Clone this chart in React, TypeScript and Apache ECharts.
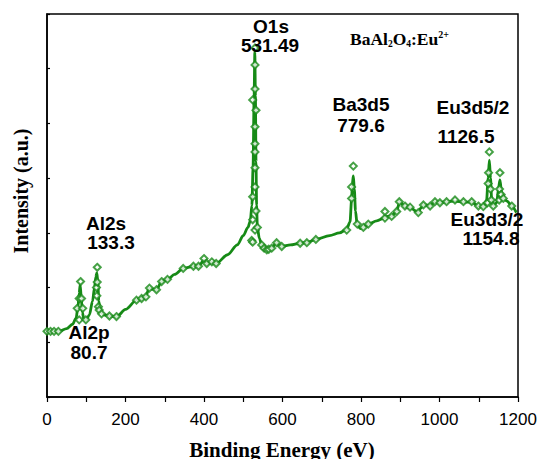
import React, { useEffect, useRef } from "react";
import * as echarts from "echarts";

// Smooth spectrum curve: [binding energy (eV), intensity (a.u.)]
const curveX = [0, 15, 30, 50, 65, 74, 79, 82, 84.5, 87, 90, 94, 99, 108, 116, 121, 124.5, 127, 129.5, 132, 136, 145, 160, 178, 200, 228, 241, 252, 260, 268, 279, 292, 307, 325, 347, 373, 386, 400, 407, 420, 431, 460, 485, 500, 512, 518, 522, 525, 527.5, 529.5, 531, 532.5, 534, 536, 541, 547, 555, 560, 566, 572, 585, 592, 598, 620, 645, 662, 685, 720, 745, 763, 772, 776, 778, 780.5, 783, 786, 790, 798, 806, 819, 840, 861, 868, 878, 891, 899, 906, 912, 925, 946, 952, 959, 976, 988, 1001, 1018, 1040, 1061, 1082, 1099, 1112, 1120, 1124, 1127, 1130, 1133, 1137, 1146, 1150, 1154, 1158, 1163, 1172, 1184, 1196];
const curveY = [1.2, 1.2, 1.2, 1.25, 1.33, 1.44, 1.65, 1.9, 2.05, 1.85, 1.55, 1.42, 1.4, 1.5, 1.75, 2.0, 2.2, 2.27, 2.1, 1.75, 1.57, 1.5, 1.48, 1.47, 1.6, 1.77, 1.8, 1.84, 1.99, 1.97, 1.96, 2.11, 2.15, 2.24, 2.35, 2.39, 2.39, 2.5, 2.44, 2.46, 2.44, 2.6, 2.78, 2.95, 3.1, 3.22, 3.5, 4.2, 5.4, 6.3, 5.5, 4.3, 3.5, 3.1, 2.9, 2.78, 2.7, 2.69, 2.7, 2.72, 2.82, 2.77, 2.75, 2.78, 2.81, 2.82, 2.88, 2.95, 3.0, 3.06, 3.2, 3.6, 3.9, 4.04, 3.8, 3.4, 3.16, 3.08, 3.1, 3.16, 3.22, 3.28, 3.3, 3.31, 3.4, 3.58, 3.52, 3.48, 3.46, 3.37, 3.45, 3.51, 3.5, 3.56, 3.55, 3.57, 3.58, 3.56, 3.56, 3.49, 3.48, 3.6, 4.0, 4.33, 4.0, 3.6, 3.5, 3.55, 3.8, 3.97, 3.75, 3.63, 3.58, 3.49, 3.37];

// Measured data points (diamond markers)
const markerX = [0, 9, 18, 29, 77, 82, 82, 85.5, 88, 91, 99, 126, 127, 128, 128, 131, 133, 139, 159, 177, 228, 241, 252, 261, 279, 292, 307, 347, 373, 386, 400, 407, 420, 431, 521.5, 524, 530, 524, 532.5, 524, 530, 530, 530, 530, 530, 532.5, 524, 530, 530, 530, 536, 547, 553, 560, 565, 572.5, 585, 598, 645, 662, 685, 763.6, 776, 776, 780.4, 790.6, 806, 818.6, 861, 861, 878, 891, 897.6, 912, 925, 946, 959, 976, 988.5, 1001, 1018, 1039.5, 1061, 1082, 1099, 1111.6, 1122, 1124, 1125, 1127, 1130, 1132, 1137, 1152, 1153, 1154, 1157, 1162.6, 1184];
const markerY = [1.2, 1.2, 1.2, 1.2, 1.62, 1.41, 1.8, 2.11, 1.8, 1.62, 1.41, 2.0, 1.85, 2.37, 2.1, 1.65, 1.59, 1.52, 1.48, 1.47, 1.77, 1.8, 1.83, 1.99, 1.96, 2.11, 2.15, 2.35, 2.39, 2.39, 2.53, 2.44, 2.47, 2.44, 2.86, 2.83, 3.05, 3.24, 3.4, 3.66, 3.84, 4.19, 4.48, 4.63, 4.94, 5.24, 5.43, 5.63, 6.07, 6.38, 3.1, 2.78, 2.72, 2.69, 2.7, 2.72, 2.82, 2.75, 2.81, 2.82, 2.88, 3.05, 3.63, 3.84, 4.22, 3.16, 3.1, 3.16, 3.27, 3.39, 3.3, 3.39, 3.57, 3.49, 3.47, 3.37, 3.51, 3.49, 3.57, 3.55, 3.57, 3.6, 3.57, 3.57, 3.49, 3.48, 3.55, 3.9, 4.1, 4.48, 3.8, 3.6, 3.49, 3.6, 3.8, 4.1, 3.7, 3.63, 3.49];

const xTicks = [0, 200, 400, 600, 800, 1000, 1200];

// Peak annotations: [name, energy]
const peakNames = ["O1s", "Ba3d5", "Eu3d5/2", "Al2s", "Al2p", "Eu3d3/2"];
const peakValues = ["531.49", "779.6", "1126.5", "133.3", "80.7", "1154.8"];

const GREEN = "#168a16";
const SANS = "Arial, 'Liberation Sans', sans-serif";
const SERIF = "'Times New Roman', 'Liberation Serif', serif";

export default function App() {
  const ref = useRef<HTMLDivElement>(null);
  useEffect(() => {
    if (!ref.current) return;
    const chart = echarts.init(ref.current, undefined, { renderer: "svg" });
    const curve = curveX.map((x, i) => [x, curveY[i]]);
    const markers = markerX.map((x, i) => [x, markerY[i]]);

    const labelStyle = { fill: "#000", font: `bold 19px ${SANS}` };
    // [name x, name y, value y, value x]
    const pos: [number, number, number, number][] = [
      [271, 26, 45, 270],
      [361, 104, 125, 361],
      [473, 107, 136, 466],
      [106, 223, 242, 111],
      [89, 332, 352, 89],
      [487, 219, 238, 491],
    ];
    const annotations: any[] = [];
    peakNames.forEach((n, i) => {
      const p = pos[i];
      annotations.push({
        type: "text",
        style: { ...labelStyle, text: n, x: p[0], y: p[1], textAlign: "center", textVerticalAlign: "middle" },
        z: 100,
      });
      annotations.push({
        type: "text",
        style: { ...labelStyle, text: peakValues[i], x: p[3], y: p[2], textAlign: "center", textVerticalAlign: "middle" },
        z: 100,
      });
    });

    chart.setOption({
      animation: false,
      backgroundColor: "#fff",
      grid: {
        left: 47,
        right: 24,
        top: 14,
        bottom: 62,
        show: true,
        borderColor: "#000",
        borderWidth: 1.5,
      },
      xAxis: {
        type: "value",
        min: 0,
        max: 1200,
        interval: 200,
        axisLine: { show: true, lineStyle: { color: "#000", width: 1.5 } },
        axisTick: { show: true, inside: false, length: 5, lineStyle: { color: "#000", width: 1.2 } },
        minorTick: { show: true, splitNumber: 2, length: 5, lineStyle: { color: "#000", width: 1.2 } },
        splitLine: { show: false },
        axisLabel: {
          color: "#000",
          fontSize: 17,
          fontFamily: SANS,
          margin: 14,
          formatter: (v: number) => (xTicks.includes(v) ? String(v) : ""),
        },
      },
      yAxis: {
        type: "value",
        min: 0,
        max: 7,
        interval: 1,
        axisLine: { show: true, lineStyle: { color: "#000", width: 1.5 } },
        axisTick: { show: true, inside: true, length: 3, lineStyle: { color: "#000", width: 1.2 } },
        splitLine: { show: false },
        axisLabel: { show: false },
      },
      series: [
        {
          type: "line",
          data: curve,
          smooth: 0.3,
          smoothMonotone: "x",
          showSymbol: false,
          lineStyle: { color: GREEN, width: 2.8 },
          z: 2,
        },
        {
          type: "scatter",
          data: markers,
          symbol: "emptyDiamond",
          symbolSize: 7,
          itemStyle: { color: GREEN, borderWidth: 2 },
          z: 3,
        },
      ],
      graphic: [
        ...annotations,
        {
          type: "text",
          z: 100,
          style: {
            x: 350,
            y: 29,
            textVerticalAlign: "top",
            text: "{a|BaAl}{sub|2}{a|O}{sub|4}{a|:Eu}{sup|2+}",
            rich: {
              a: { fontFamily: SERIF, fontWeight: "bold", fontSize: 17.5, lineHeight: 20, fill: "#000" },
              sub: { fontFamily: SERIF, fontWeight: "bold", fontSize: 9.5, lineHeight: 9, verticalAlign: "bottom", fill: "#000" },
              sup: { fontFamily: SERIF, fontWeight: "bold", fontSize: 10, lineHeight: 10, verticalAlign: "top", fill: "#000" },
            },
          },
        },
        {
          type: "text",
          z: 100,
          x: 21,
          y: 191,
          rotation: Math.PI / 2,
          style: {
            text: "Intensity (a.u.)",
            font: `bold 20px ${SERIF}`,
            fill: "#000",
            textAlign: "center",
            textVerticalAlign: "middle",
          },
        },
        {
          type: "text",
          z: 100,
          style: {
            x: 282,
            y: 450,
            text: "Binding Energy (eV)",
            font: `bold 21px ${SERIF}`,
            fill: "#000",
            textAlign: "center",
            textVerticalAlign: "middle",
          },
        },
      ],
    });
    return () => chart.dispose();
  }, []);
  return <div ref={ref} style={{ width: 542, height: 459, position: "absolute", left: 0, top: 0 }} />;
}
